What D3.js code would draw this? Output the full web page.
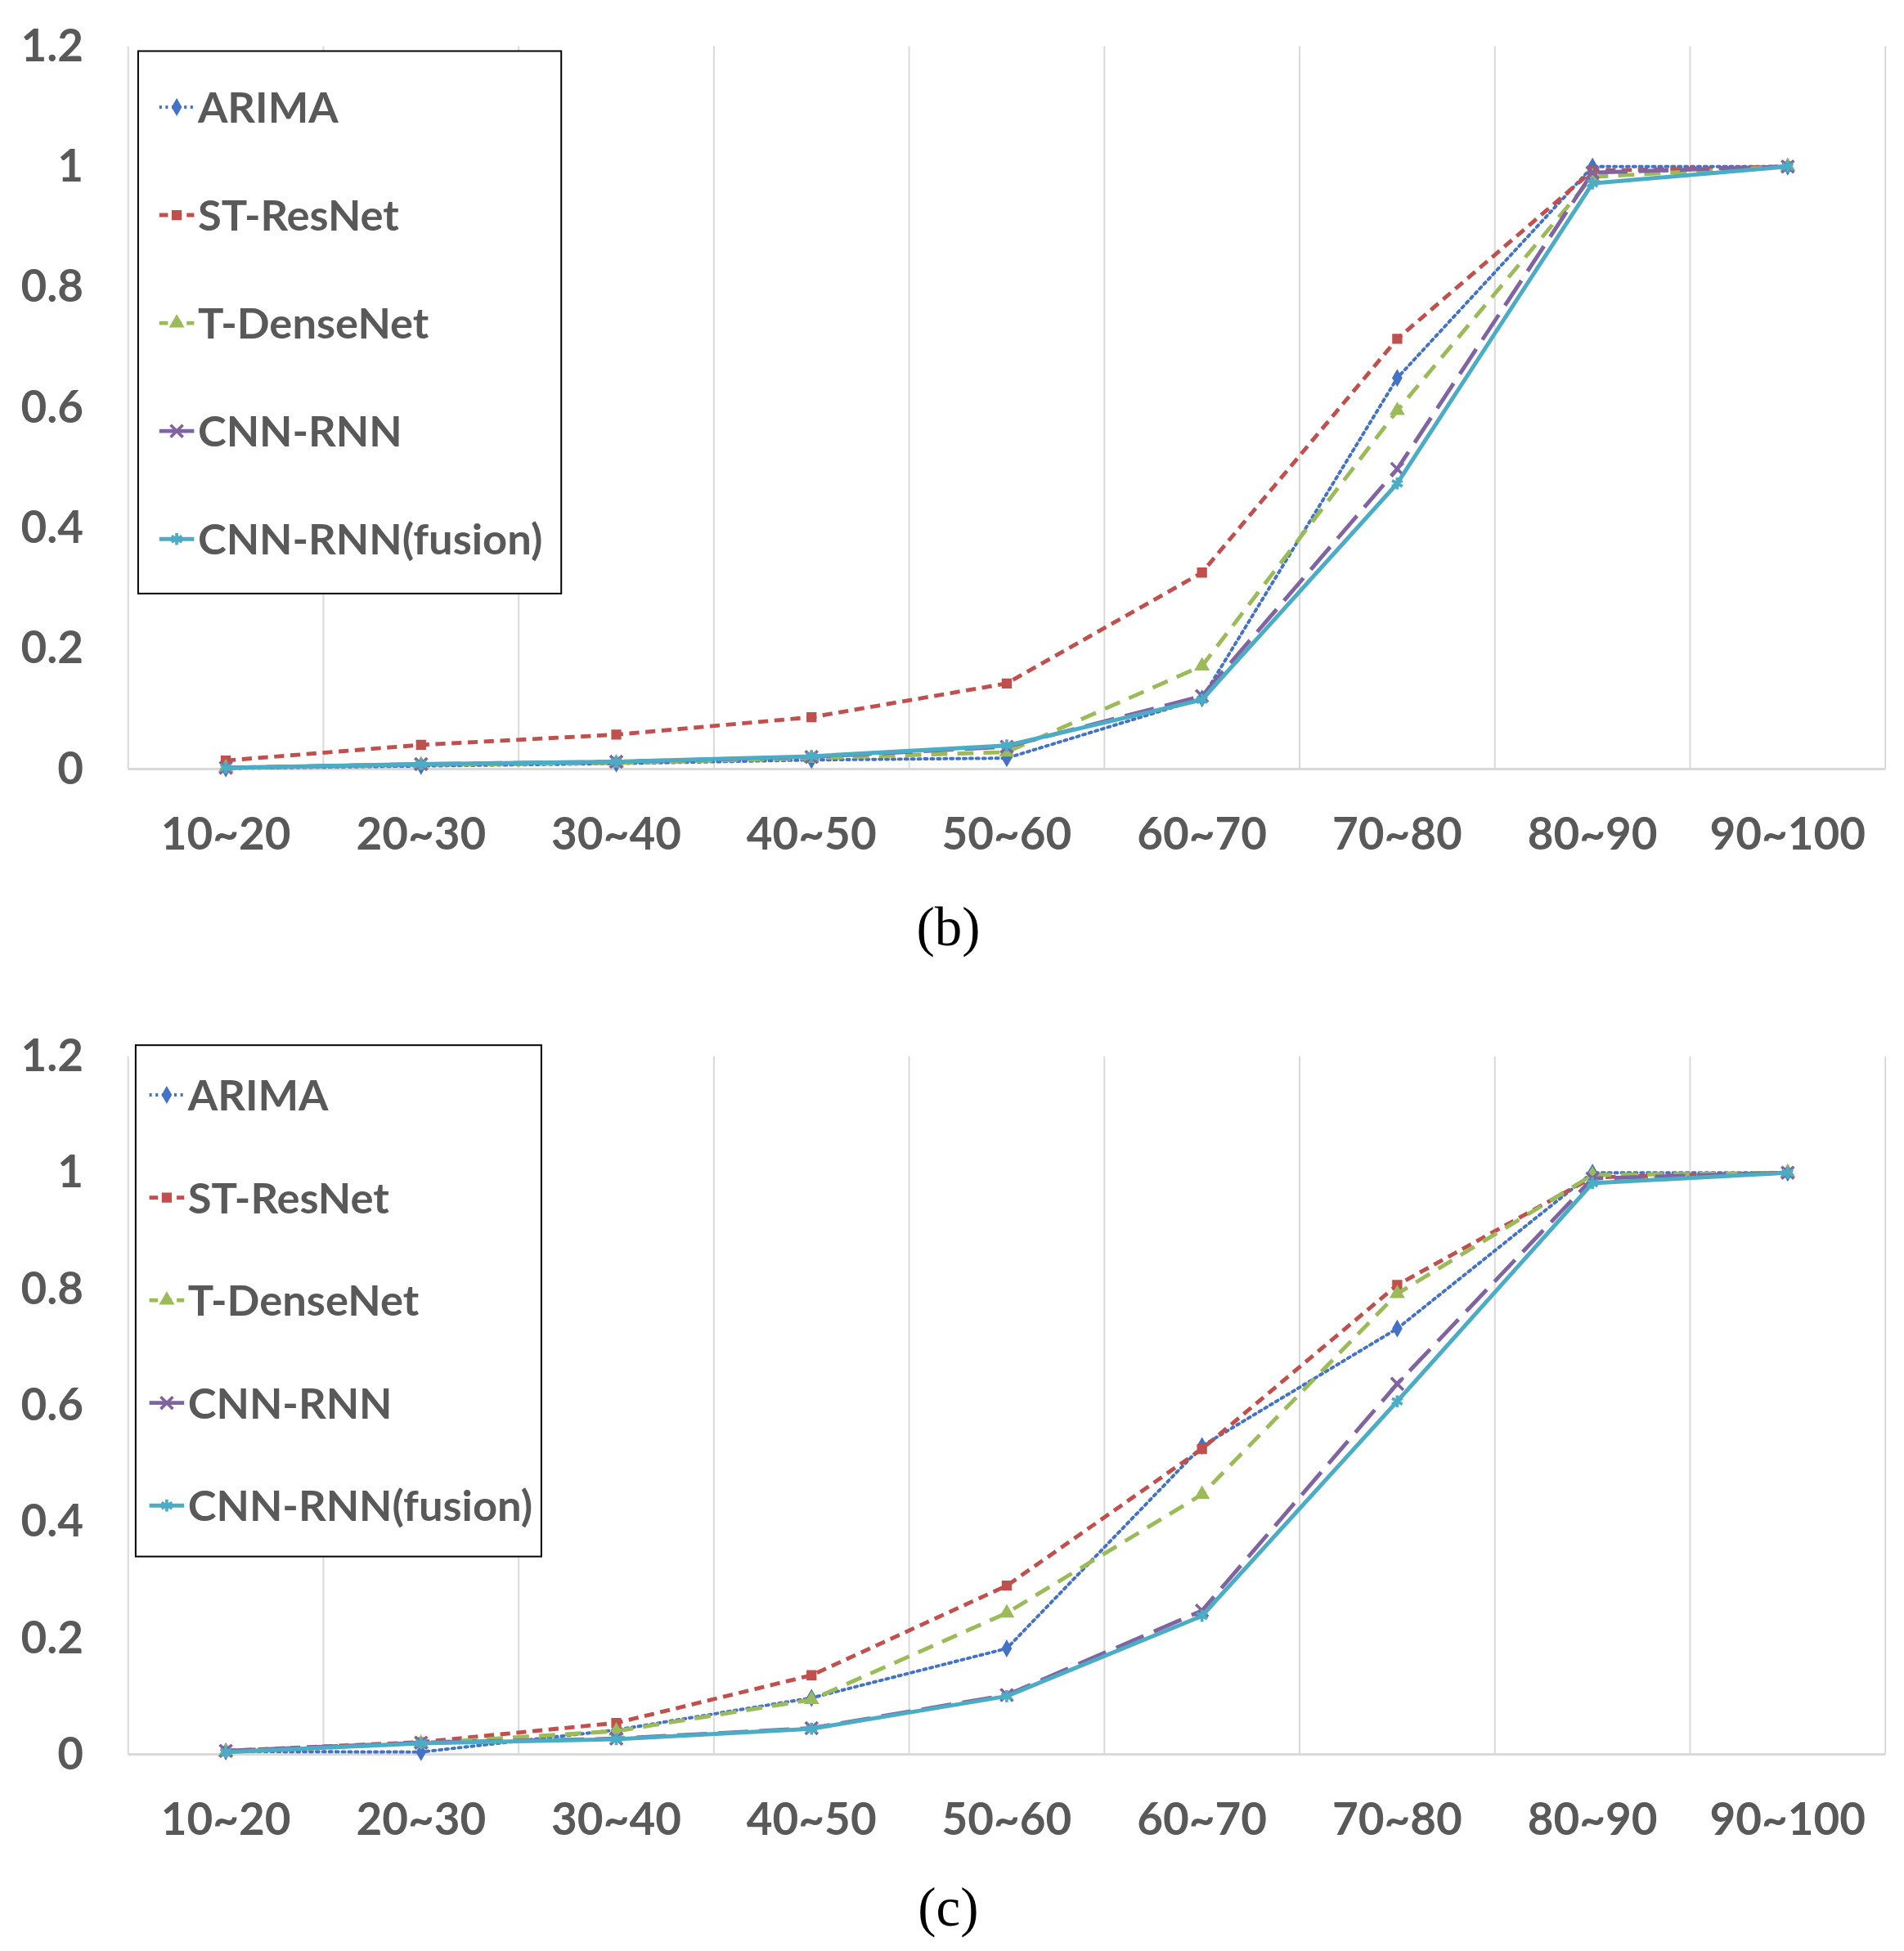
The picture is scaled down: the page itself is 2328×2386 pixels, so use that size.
<!DOCTYPE html>
<html>
<head>
<meta charset="utf-8">
<script src="https://cdn.jsdelivr.net/npm/d3@7"></script>
<style>
  body { margin: 0; background: #fff; }
  svg { display: block; }
</style>
</head>
<body>
<div id="wrapper"></div>
<script>
const categories = ['10~20', '20~30', '30~40', '40~50', '50~60', '60~70', '70~80', '80~90', '90~100']
const yTicks = [0, 0.2, 0.4, 0.6, 0.8, 1, 1.2]
const seriesNames = ['ARIMA', 'ST-ResNet', 'T-DenseNet', 'CNN-RNN', 'CNN-RNN(fusion)']

// panel (b)
const arimaB = [0.001, 0.005, 0.009, 0.015, 0.018, 0.117, 0.649, 1.0, 1.0]
const stResNetB = [0.014, 0.040, 0.057, 0.086, 0.142, 0.326, 0.714, 0.993, 1.0]
const tDenseNetB = [0.002, 0.007, 0.010, 0.018, 0.028, 0.171, 0.595, 0.983, 1.0]
const cnnRnnB = [0.002, 0.008, 0.012, 0.020, 0.037, 0.121, 0.498, 0.990, 1.0]
const fusionB = [0.002, 0.008, 0.012, 0.021, 0.039, 0.115, 0.474, 0.972, 1.0]

// panel (c)
const arimaC = [0.005, 0.004, 0.042, 0.097, 0.182, 0.530, 0.732, 1.0, 1.0]
const stResNetC = [0.006, 0.021, 0.054, 0.136, 0.290, 0.525, 0.807, 0.992, 1.0]
const tDenseNetC = [0.004, 0.019, 0.040, 0.094, 0.243, 0.447, 0.792, 0.996, 1.0]
const cnnRnnC = [0.006, 0.020, 0.027, 0.045, 0.102, 0.247, 0.637, 0.990, 1.0]
const fusionC = [0.004, 0.019, 0.026, 0.044, 0.100, 0.238, 0.607, 0.982, 1.0]

const styles = [
    { color: '#4472C4', dash: '2,3.2', width: 2.6, symbol: d3.symbolDiamond, size: 45, fill: true },
    { color: '#C0504D', dash: '8,5', width: 3.2, symbol: d3.symbolSquare, size: 50, fill: true },
    { color: '#9BBB59', dash: '13,8', width: 3.2, symbol: d3.symbolTriangle, size: 50, fill: true },
    { color: '#8064A2', dash: '24,9', width: 3.2, symbol: d3.symbolX, size: 65, fill: false },
    { color: '#4BACC6', dash: null, width: 3.3, symbol: d3.symbolAsterisk, size: 65, fill: false },
]

const panels = [
    { caption: '(b)', values: [arimaB, stResNetB, tDenseNetB, cnnRnnB, fusionB],
      top: 37, bottom: 618, captionY: 745,
      legend: { x: 111, y: 41, w: 340, h: 436, rowY: 86, rowGap: 86.8, lineX: 128, textX: 159 } },
    { caption: '(c)', values: [arimaC, stResNetC, tDenseNetC, cnnRnnC, fusionC],
      top: 849, bottom: 1410, captionY: 1533,
      legend: { x: 109, y: 840, w: 326, h: 411, rowY: 880, rowGap: 82.5, lineX: 120, textX: 151 } },
]

const width = 1530
const height = 1568
const plotLeft = 103
const plotRight = 1515
const fontFamily = 'Lato, "Open Sans", sans-serif'
const textColor = '#595959'
const gridColor = '#d9d9d9'

const svg = d3.select('#wrapper')
    .append('svg')
    .attr('width', 2328)
    .attr('height', 2386)
    .attr('viewBox', `0 0 ${width} ${height}`)
    .style('background-color', '#fff')

const scaleX = d3.scaleBand()
    .domain(categories)
    .range([plotLeft, plotRight])
    .padding(0)
const xCenter = (c) => scaleX(c) + scaleX.bandwidth() / 2

panels.forEach(panel => {
    const g = svg.append('g')

    const scaleY = d3.scaleLinear()
        .domain([0, 1.2])
        .range([panel.bottom, panel.top])

    // vertical gridlines at category edges
    const edges = categories.map(c => scaleX(c)).concat([plotRight])
    g.append('g').selectAll('line')
        .data(edges)
        .join('line')
        .attr('x1', d => d)
        .attr('x2', d => d)
        .attr('y1', scaleY(1.2))
        .attr('y2', scaleY(0))
        .attr('stroke', gridColor)
        .attr('stroke-width', 1.3)

    // baseline
    g.append('line')
        .attr('x1', plotLeft)
        .attr('x2', plotRight)
        .attr('y1', scaleY(0))
        .attr('y2', scaleY(0))
        .attr('stroke', gridColor)
        .attr('stroke-width', 2)

    const yAxis = g.append('g')
        .attr('transform', `translate(${plotLeft}, 0)`)
        .call(d3.axisLeft(scaleY).tickValues(yTicks).tickSize(0).tickPadding(36).tickFormat(d3.format('~g')))
    yAxis.select('.domain').remove()
    yAxis.selectAll('text')
        .attr('fill', textColor)
        .style('font-family', fontFamily)
        .style('font-weight', 'bold')
        .style('font-size', '36px')

    const xAxis = g.append('g')
        .attr('transform', `translate(0, ${scaleY(0)})`)
        .call(d3.axisBottom(scaleX).tickSize(0).tickPadding(39))
    xAxis.select('.domain').remove()
    xAxis.selectAll('text')
        .attr('fill', textColor)
        .style('font-family', fontFamily)
        .style('font-weight', 'bold')
        .style('font-size', '36px')

    const line = d3.line()
        .x((d, i) => xCenter(categories[i]))
        .y(d => scaleY(d))

    panel.values.forEach((vals, si) => {
        const st = styles[si]
        g.append('path')
            .datum(vals)
            .attr('d', line)
            .attr('fill', 'none')
            .attr('stroke', st.color)
            .attr('stroke-width', st.width)
            .attr('stroke-dasharray', st.dash)
            .attr('stroke-linecap', si === 0 ? 'round' : 'butt')
            .attr('stroke-linejoin', 'round')

        g.append('g').selectAll('path')
            .data(vals)
            .join('path')
            .attr('transform', (d, i) => `translate(${xCenter(categories[i])}, ${scaleY(d)})`)
            .attr('d', d3.symbol().type(st.symbol).size(st.size))
            .attr('fill', st.fill ? st.color : 'none')
            .attr('stroke', st.color)
            .attr('stroke-width', st.fill ? 1 : 2.4)
    })

    // legend
    const lg = panel.legend
    const legend = g.append('g')
    legend.append('rect')
        .attr('x', lg.x)
        .attr('y', lg.y)
        .attr('width', lg.w)
        .attr('height', lg.h)
        .attr('fill', '#fff')
        .attr('stroke', '#000')
        .attr('stroke-width', 1.3)

    const rows = legend.selectAll('g.row')
        .data(seriesNames)
        .join('g')
        .attr('class', 'row')
        .attr('transform', (d, i) => `translate(0, ${lg.rowY + i * lg.rowGap})`)

    rows.append('line')
        .attr('x1', lg.lineX)
        .attr('x2', lg.lineX + 28)
        .attr('y1', 0)
        .attr('y2', 0)
        .attr('stroke', (d, i) => styles[i].color)
        .attr('stroke-width', (d, i) => styles[i].width)
        .attr('stroke-dasharray', (d, i) => i === 0 ? '2,3' : (i === 1 || i === 2) ? '7,4' : null)

    rows.append('path')
        .attr('transform', `translate(${lg.lineX + 14}, 0)`)
        .attr('d', (d, i) => d3.symbol().type(styles[i].symbol).size(styles[i].size)())
        .attr('fill', (d, i) => styles[i].fill ? styles[i].color : 'none')
        .attr('stroke', (d, i) => styles[i].color)
        .attr('stroke-width', (d, i) => styles[i].fill ? 1 : 2.4)

    rows.append('text')
        .text(d => d)
        .attr('x', lg.textX)
        .attr('y', 0)
        .attr('dy', '0.36em')
        .attr('fill', textColor)
        .style('font-family', fontFamily)
        .style('font-weight', 'bold')
        .style('font-size', '34.5px')

    svg.append('text')
        .text(panel.caption)
        .attr('x', 762)
        .attr('y', panel.captionY)
        .attr('dy', '0.33em')
        .attr('fill', '#000')
        .style('text-anchor', 'middle')
        .style('font-family', '"Liberation Serif", serif')
        .style('font-size', '44px')
})
</script>
</body>
</html>
